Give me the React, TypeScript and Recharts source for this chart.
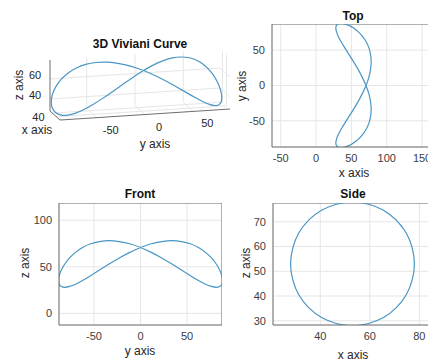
import React from "react";
import { LineChart, Line, XAxis, YAxis, CartesianGrid, ReferenceLine } from "recharts";

// Viviani curve samples (x, y, z)
const curveX = [
  70.7, 65.5, 59.5, 53.0, 46.5, 40.5, 35.3, 31.3, 28.9, 28.0, 28.9, 31.3, 35.3, 40.5, 46.5, 53.0, 59.5,
  65.5, 70.7, 74.7, 77.1, 78.0, 77.1, 74.7, 70.7, 65.5, 59.5, 53.0, 46.5, 40.5, 35.3, 31.3, 28.9, 28.0,
  28.9, 31.3, 35.3, 40.5, 46.5, 53.0, 59.5, 65.5, 70.7, 74.7, 77.1, 78.0, 77.1, 74.7, 70.7,
];
const curveY = [
  0, 11.5, 22.8, 33.7, 44.0, 53.6, 62.2, 69.8, 76.2, 81.3, 85.0, 87.2, 88.0, 87.2, 85.0, 81.3, 76.2,
  69.8, 62.2, 53.6, 44.0, 33.7, 22.8, 11.5, 0, -11.5, -22.8, -33.7, -44.0, -53.6, -62.2, -69.8, -76.2,
  -81.3, -85.0, -87.2, -88.0, -87.2, -85.0, -81.3, -76.2, -69.8, -62.2, -53.6, -44.0, -33.7, -22.8,
  -11.5, 0,
];
const curveZ = [
  70.7, 74.7, 77.1, 78.0, 77.1, 74.7, 70.7, 65.5, 59.5, 53.0, 46.5, 40.5, 35.3, 31.3, 28.9, 28.0, 28.9,
  31.3, 35.3, 40.5, 46.5, 53.0, 59.5, 65.5, 70.7, 74.7, 77.1, 78.0, 77.1, 74.7, 70.7, 65.5, 59.5, 53.0,
  46.5, 40.5, 35.3, 31.3, 28.9, 28.0, 28.9, 31.3, 35.3, 40.5, 46.5, 53.0, 59.5, 65.5, 70.7,
];

// tick labels per view
const topXTicks = [-50, 0, 50, 100, 150];
const topYTicks = [-50, 0, 50];
const frontXTicks = [-50, 0, 50];
const frontYTicks = [0, 50, 100];
const sideXTicks = [40, 60, 80];
const sideYTicks = [30, 40, 50, 60, 70];

// 3D box limits and ticks
const xLim3 = [28, 78];
const yLim3 = [-88, 88];
const zLim3 = [28, 79];
const x3Ticks = [40, 60];
const x3Labels = [40];
const y3Ticks = [-50, 0, 50];
const z3Ticks = [40, 60];

const rows = curveX.map((x, i) => ({ x, y: curveY[i], z: curveZ[i] }));

const FONT = "'Liberation Sans', Arial, Helvetica, sans-serif";
const LINE = "#4a96c4";
const AXIS = "#6e6e6e";
const GRID = "#e6e6e6";
const TICK = "#3c3c3c";

// camera roughly view(75, 14)
const AZ = (75 * Math.PI) / 180;
const EL = (14 * Math.PI) / 180;
const SX = 0.773, SY = 1.0, SZ = 1.03;
const ORIGIN = { h: 50, v: 111 };

function project(x: number, y: number, z: number) {
  const dx = (x - xLim3[0]) * SX;
  const dy = (y - yLim3[0]) * SY;
  const dz = (z - zLim3[0]) * SZ;
  const h = dx * Math.cos(AZ) + dy * Math.sin(AZ);
  const v = -Math.sin(EL) * Math.sin(AZ) * dx + Math.sin(EL) * Math.cos(AZ) * dy + Math.cos(EL) * dz;
  return { h: ORIGIN.h + h, v: ORIGIN.v - v };
}

function Label({ x, y, text, bold, size = 12, rotate }: any) {
  return (
    <div
      style={{
        position: "absolute",
        left: x,
        top: y,
        transform: `translate(-50%, -50%)${rotate ? " rotate(-90deg)" : ""}`,
        fontFamily: FONT,
        fontSize: size,
        fontWeight: bold ? "bold" : "normal",
        color: bold ? "#111" : "#262626",
        whiteSpace: "nowrap",
        lineHeight: 1,
      }}
    >
      {text}
    </div>
  );
}

function Panel2D(props: any) {
  const { left, top, width, height, xDomain, yDomain, xTicks, yTicks, xKey, yKey } = props;
  const yAxisW = 45;
  return (
    <div style={{ position: "absolute", left: left - yAxisW, top }}>
      <LineChart
        width={width + yAxisW}
        height={height + 24}
        data={rows}
        margin={{ top: 0, right: 0, bottom: 0, left: 0 }}
      >
        <CartesianGrid stroke={GRID} />
        <XAxis
          type="number"
          dataKey={xKey}
          domain={xDomain}
          ticks={xTicks}
          interval={0}
          allowDataOverflow
          height={24}
          tickSize={0}
          tickMargin={7}
          tickLine={false}
          axisLine={{ stroke: AXIS }}
          tick={{ fontSize: 11, fill: TICK, fontFamily: FONT }}
        />
        <YAxis
          type="number"
          domain={yDomain}
          ticks={yTicks}
          interval={0}
          allowDataOverflow
          width={yAxisW}
          tickSize={0}
          tickMargin={7}
          tickLine={false}
          axisLine={{ stroke: AXIS }}
          tick={{ fontSize: 11, fill: TICK, fontFamily: FONT }}
        />
        <ReferenceLine y={yDomain[1]} stroke={AXIS} />
        <ReferenceLine x={xDomain[1]} stroke={AXIS} />
        <Line
          dataKey={yKey}
          type="natural"
          dot={false}
          activeDot={false}
          stroke={LINE}
          strokeWidth={1.2}
          isAnimationActive={false}
        />
      </LineChart>
    </div>
  );
}

function Panel3D() {
  const pts = rows.map((r) => project(r.x, r.y, r.z));
  const [x0, x1] = xLim3;
  const [y0, y1] = yLim3;
  const [z0, z1] = zLim3;
  const seg = (a: number[], b: number[]) => {
    const p = project(a[0], a[1], a[2]);
    const q = project(b[0], b[1], b[2]);
    return [
      { x: p.h, y: p.v },
      { x: q.h, y: q.v },
    ];
  };
  const grid: any[] = [];
  y3Ticks.forEach((y) => {
    grid.push(seg([x0, y, z0], [x0, y, z1]));
    grid.push(seg([x0, y, z0], [x1, y, z0]));
  });
  z3Ticks.forEach((z) => {
    grid.push(seg([x0, y0, z], [x0, y1, z]));
    grid.push(seg([x0, y1, z], [x1, y1, z]));
  });
  x3Ticks.forEach((x) => {
    grid.push(seg([x, y1, z0], [x, y1, z1]));
    grid.push(seg([x, y0, z0], [x, y1, z0]));
  });
  const axes = [
    seg([x0, y0, z0], [x0, y0, z1]),
    seg([x0, y0, z0], [x1, y0, z0]),
    seg([x1, y0, z0], [x1, y1, z0]),
  ];
  return (
    <>
      <div style={{ position: "absolute", left: 0, top: 30 }}>
        <LineChart width={240} height={120} data={pts} margin={{ top: 0, right: 0, bottom: 0, left: 0 }}>
          <XAxis type="number" dataKey="h" domain={[0, 240]} hide />
          <YAxis type="number" domain={[30, 150]} reversed hide />
          {grid.map((s, i) => (
            <ReferenceLine key={"g" + i} segment={s} stroke={GRID} ifOverflow="visible" />
          ))}
          {axes.map((s, i) => (
            <ReferenceLine key={"a" + i} segment={s} stroke={AXIS} ifOverflow="visible" />
          ))}
          <Line
            dataKey="v"
            type="natural"
            dot={false}
            activeDot={false}
            stroke={LINE}
            strokeWidth={1.2}
            isAnimationActive={false}
          />
        </LineChart>
      </div>
      {y3Ticks.map((y) => {
        const p = project(x1, y, z0);
        return <Label key={"yt" + y} x={p.h + 14} y={p.v + 12} text={String(y)} size={11} />;
      })}
      {z3Ticks.map((z) => {
        const p = project(x0, y0, z);
        return <Label key={"zt" + z} x={p.h - 15} y={p.v - 4} text={String(z)} size={11} />;
      })}
      {x3Labels.map((x) => {
        const p = project(x, y0, z0);
        return <Label key={"xt" + x} x={p.h - 14} y={p.v + 4} text={String(x)} size={11} />;
      })}
      <Label x={140} y={44} text="3D Viviani Curve" bold />
      <Label x={37} y={130} text="x axis" />
      <Label x={155} y={144} text="y axis" />
      <Label x={19} y={85} text="z axis" rotate />
    </>
  );
}

export default function App() {
  return (
    <div
      style={{
        position: "absolute",
        left: 0,
        top: 0,
        width: 428,
        height: 363,
        overflow: "hidden",
        background: "#fff",
      }}
    >
      <Panel3D />

      <Panel2D
        left={272}
        top={24}
        width={163}
        height={123}
        xDomain={[-62.3, 168.3]}
        yDomain={[-87, 87]}
        xTicks={topXTicks}
        yTicks={topYTicks}
        xKey="x"
        yKey="y"
      />
      <Label x={353} y={16} text="Top" bold />
      <Label x={354} y={173} text="x axis" />
      <Label x={242} y={86} text="y axis" rotate />

      <Panel2D
        left={59}
        top={203}
        width={163}
        height={122}
        xDomain={[-87.5, 87.5]}
        yDomain={[-12.5, 118.5]}
        xTicks={frontXTicks}
        yTicks={frontYTicks}
        xKey="y"
        yKey="z"
      />
      <Label x={140} y={194} text="Front" bold />
      <Label x={140} y={351} text="y axis" />
      <Label x={25} y={263} text="z axis" rotate />

      <Panel2D
        left={273}
        top={203}
        width={159}
        height={122}
        xDomain={[20.9, 85.1]}
        yDomain={[28.3, 77.6]}
        xTicks={sideXTicks}
        yTicks={sideYTicks}
        xKey="x"
        yKey="z"
      />
      <Label x={353} y={194} text="Side" bold />
      <Label x={353} y={355} text="x axis" />
      <Label x={246} y={263} text="z axis" rotate />
    </div>
  );
}
